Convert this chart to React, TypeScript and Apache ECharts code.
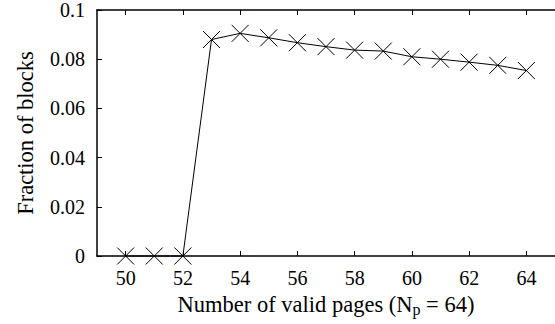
import React, { useEffect, useRef } from "react";
import * as echarts from "echarts";

const xValues = [50, 51, 52, 53, 54, 55, 56, 57, 58, 59, 60, 61, 62, 63, 64];
const fraction = [0, 0, 0, 0.088, 0.0905, 0.0887, 0.0867, 0.0851, 0.0837, 0.0833, 0.081, 0.08, 0.0788, 0.0775, 0.0754];
const yTicks = [0, 0.02, 0.04, 0.06, 0.08, 0.1];
const xTicks = [50, 52, 54, 56, 58, 60, 62, 64];

const FONT = "Liberation Serif";

export default function App() {
  const ref = useRef<HTMLDivElement>(null);
  useEffect(() => {
    if (!ref.current) return;
    const chart = echarts.init(ref.current, null, { renderer: "svg" });
    const axisLine = { show: true, lineStyle: { color: "#000", width: 1.5 } };
    chart.setOption({
      animation: false,
      backgroundColor: "#fff",
      grid: { left: 97, top: 8, right: -6, bottom: 68, containLabel: false },
      xAxis: [
        {
          type: "value",
          min: 49,
          max: 65,
          interval: 2,
          axisLine: { ...axisLine, onZero: false },
          axisTick: { show: true, inside: true, length: 5, lineStyle: { color: "#000", width: 1 }, customValues: xTicks },
          axisLabel: {
            fontFamily: FONT,
            fontSize: 20,
            color: "#000",
            margin: 12,
            customValues: xTicks,
            formatter: (v: number) => String(v),
          },
          splitLine: { show: false },
          name: "{a|Number of valid pages (N}{s|p}{a| = 64)}",
          nameLocation: "middle",
          nameGap: 35,
          nameTextStyle: {
            fontFamily: FONT,
            fontSize: 22.5,
            rich: {
              a: { fontFamily: FONT, fontSize: 22.5, color: "#000" },
              s: { fontFamily: FONT, fontSize: 16, color: "#000", verticalAlign: "bottom", padding: [10, 0, 0, 0] },
            },
          },
        },
        {
          type: "value",
          position: "top",
          min: 49,
          max: 65,
          axisLine: { ...axisLine, onZero: false },
          axisTick: { show: true, inside: true, length: 5, lineStyle: { color: "#000", width: 1 }, customValues: xTicks },
          axisLabel: { show: false },
          splitLine: { show: false },
        },
      ],
      yAxis: [
        {
          type: "value",
          min: 0,
          max: 0.1,
          interval: 0.02,
          axisLine: { ...axisLine, onZero: false },
          axisTick: { show: true, inside: true, length: 5, lineStyle: { color: "#000", width: 1 } },
          axisLabel: {
            fontFamily: FONT,
            fontSize: 20,
            color: "#000",
            margin: 12,
            formatter: (v: number) => {
              const t = yTicks.find((y) => Math.abs(y - v) < 1e-9);
              return t === undefined ? "" : String(Number(t.toFixed(2)));
            },
          },
          splitLine: { show: false },
          name: "Fraction of blocks",
          nameLocation: "middle",
          nameGap: 60,
          nameTextStyle: { fontFamily: FONT, fontSize: 22.5, color: "#000" },
        },
      ],
      series: [
        {
          type: "line",
          data: xValues.map((x, i) => [x, fraction[i]]),
          symbol: "path://M0,0L10,10M10,0L0,10",
          symbolSize: 17,
          showSymbol: true,
          lineStyle: { color: "#000", width: 1 },
          itemStyle: { color: "#000", borderColor: "#000", borderWidth: 1 },
          clip: false,
        },
      ],
    });
    return () => chart.dispose();
  }, []);
  return <div ref={ref} style={{ width: 555, height: 324, position: "absolute", left: 0, top: 0 }} />;
}
